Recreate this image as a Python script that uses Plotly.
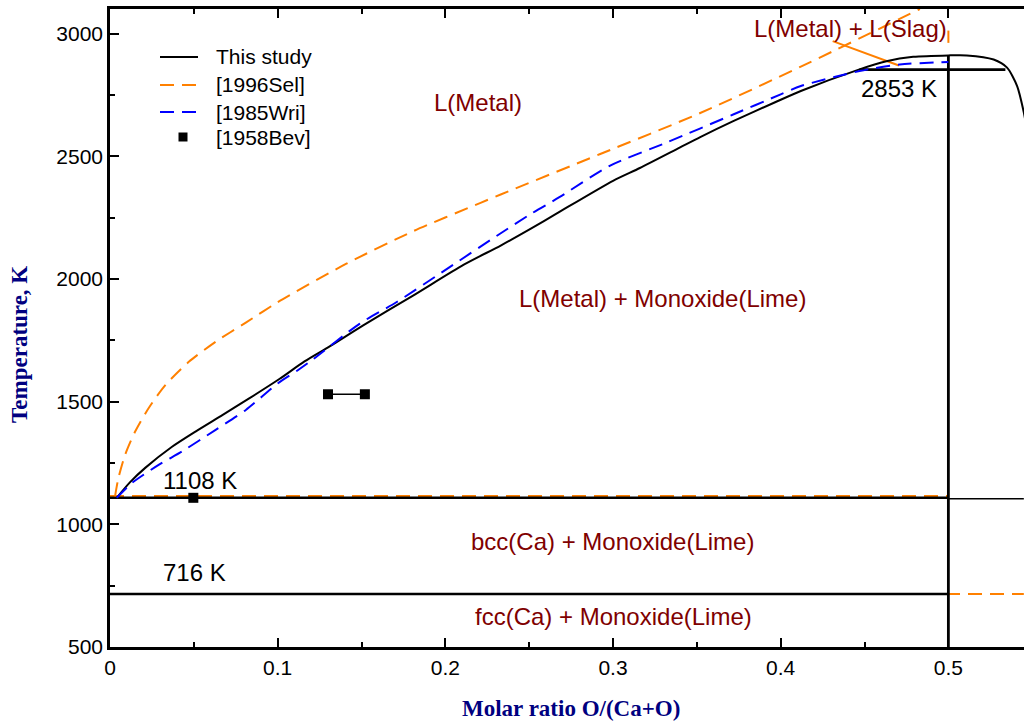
import plotly.graph_objects as go

# ---------------- data ----------------
# This study: liquidus of the Ca-O system
x_this = [0.004, 0.012, 0.021, 0.037, 0.051, 0.067, 0.083, 0.101, 0.116, 0.131,
          0.151, 0.181, 0.211, 0.233, 0.251, 0.266, 0.300, 0.316, 0.340, 0.352,
          0.372, 0.396, 0.412, 0.447, 0.463, 0.479, 0.500, 0.511, 0.527, 0.535,
          0.541, 0.545, 0.548]
t_this = [1108, 1172, 1230, 1316, 1378, 1445, 1513, 1592, 1664, 1725,
          1811, 1933, 2058, 2136, 2205, 2265, 2400, 2452, 2536, 2578,
          2644, 2718, 2766, 2854, 2887, 2905, 2911, 2911, 2894, 2861,
          2786, 2678, 2560]

# [1996Sel] liquidus
x_sel = [0.003, 0.005, 0.009, 0.015, 0.023, 0.033, 0.047, 0.063, 0.081, 0.100,
         0.141, 0.181, 0.221, 0.233, 0.292, 0.352, 0.412, 0.483]
t_sel = [1114, 1188, 1283, 1378, 1473, 1567, 1662, 1744, 1822, 1905,
         2062, 2195, 2310, 2344, 2508, 2676, 2865, 3100]
# [1996Sel] liquid miscibility boundary and other lines
x_sel_gap = [0.431, 0.4705]
t_sel_gap = [2969, 2870]
x_sel_vert = [0.5, 0.5]
t_sel_vert = [3012, 2962]
x_sel_eut = [0.0, 0.5]
t_sel_eut = [1115, 1115]
x_sel_716 = [0.0, 0.545]
t_sel_716 = [716, 716]

# [1985Wri] liquidus
x_wri = [0.004, 0.013, 0.029, 0.043, 0.063, 0.081, 0.100, 0.112, 0.121, 0.149,
         0.171, 0.201, 0.231, 0.251, 0.268, 0.298, 0.332, 0.372, 0.400, 0.412,
         0.447, 0.471, 0.500]
t_wri = [1108, 1168, 1242, 1297, 1385, 1466, 1574, 1628, 1672, 1818,
         1906, 2041, 2177, 2265, 2333, 2461, 2556, 2671, 2752, 2786,
         2847, 2874, 2884]

# [1958Bev] experimental points
x_bev = [0.0497, 0.130, 0.152]
t_bev = [1108, 1530, 1530]

# invariant lines of this study
x_eut = [0.0, 0.5]
t_eut = [1108, 1108]
x_eut_r = [0.5, 0.545]
t_eut_r = [1104, 1104]
x_716 = [0.0, 0.5]
t_716 = [716, 716]
x_mono = [0.447, 0.534]
t_mono = [2853, 2853]
x_cao = [0.5, 0.5]
t_cao = [500, 2911]

# region labels
lab_text = ["L(Metal)", "L(Metal) + L(Slag)", "L(Metal) + Monoxide(Lime)",
            "bcc(Ca) + Monoxide(Lime)", "fcc(Ca) + Monoxide(Lime)"]
lab_x = [0.2192, 0.4414, 0.3295, 0.2994, 0.300]
lab_t = [2719, 3020, 1920, 930, 624]
# temperature labels
tl_text = ["1108 K", "716 K", "2853 K"]
tl_x = [0.0534, 0.0501, 0.4706]
tl_t = [1178, 802, 2778]

# legend entries
leg_names = ["This study", "[1996Sel]", "[1985Wri]", "[1958Bev]"]

x_ticks = [0, 0.1, 0.2, 0.3, 0.4, 0.5]
x_ticklabels = ["0", "0.1", "0.2", "0.3", "0.4", "0.5"]
y_ticks = [500, 1000, 1500, 2000, 2500, 3000]

ORANGE = "#FF8000"
BLUE = "#0000FF"
DARKRED = "#800000"
SANS = "Liberation Sans, Arial, sans-serif"
SERIF = "Liberation Serif, Times New Roman, serif"
DASH = "14px,8px"

fig = go.Figure()

def line(x, y, color, width, dash="solid", name="", smooth=False):
    fig.add_trace(go.Scatter(x=x, y=y, mode="lines", name=name,
                             line=dict(color=color, width=width, dash=dash,
                                       shape="spline" if smooth else "linear",
                                       smoothing=0.7 if smooth else None),
                             showlegend=False, hoverinfo="skip"))

# orange (1996Sel) underlying lines
line(x_sel_716, t_sel_716, ORANGE, 2, DASH)
line(x_sel_eut, t_sel_eut, ORANGE, 2, DASH)
# black invariants
line(x_eut, t_eut, "black", 2.6)
line(x_eut_r, t_eut_r, "black", 1.5)
line(x_716, t_716, "black", 2.6)
line(x_mono, t_mono, "black", 2.6)
line(x_cao, t_cao, "black", 2.8)
# other 1996Sel lines
line(x_sel_gap, t_sel_gap, ORANGE, 2)
line(x_sel_vert, t_sel_vert, ORANGE, 2)
# liquidus curves
line(x_this, t_this, "black", 2, name=leg_names[0], smooth=True)
line(x_sel, t_sel, ORANGE, 2, DASH, name=leg_names[1], smooth=True)
line(x_wri, t_wri, BLUE, 2, DASH, name=leg_names[2], smooth=True)

# 1958Bev
fig.add_trace(go.Scatter(x=x_bev[1:], y=t_bev[1:], mode="lines",
                         line=dict(color="black", width=1.5),
                         showlegend=False, hoverinfo="skip"))
fig.add_trace(go.Scatter(x=x_bev, y=t_bev, mode="markers", name=leg_names[3],
                         marker=dict(symbol="square", size=10, color="black"),
                         showlegend=False, hoverinfo="skip"))

for t, x, y in zip(lab_text, lab_x, lab_t):
    fig.add_annotation(x=x, y=y, text=t, showarrow=False,
                       font=dict(family=SANS, size=24, color=DARKRED),
                       xanchor="center", yanchor="middle")
for t, x, y in zip(tl_text, tl_x, tl_t):
    fig.add_annotation(x=x, y=y, text=t, showarrow=False,
                       font=dict(family=SANS, size=24, color="black"),
                       xanchor="center", yanchor="middle")

# ---- legend (drawn in paper coordinates) ----
PW, PH, PL, PB = 914.0, 638.0, 110.0, 647.0
def px(xp):
    return (xp - PL) / PW
def py(yp):
    return (PB - yp) / PH
leg_rows = [57, 85, 112, 137]
leg_styles = [("black", "solid"), (ORANGE, DASH), (BLUE, DASH), None]
for name, row, style in zip(leg_names, leg_rows, leg_styles):
    if style is not None:
        fig.add_shape(type="line", xref="paper", yref="paper",
                      x0=px(160), x1=px(198), y0=py(row), y1=py(row),
                      line=dict(color=style[0], width=2, dash=style[1]))
    else:
        fig.add_shape(type="rect", xref="paper", yref="paper",
                      x0=px(178.5), x1=px(187.5), y0=py(row + 4.5), y1=py(row - 4.5),
                      line=dict(width=0), fillcolor="black")
    fig.add_annotation(xref="paper", yref="paper", x=px(214), y=py(row),
                       text=name, showarrow=False, xanchor="left", yanchor="middle",
                       font=dict(family=SANS, size=21, color="black"))

# axis titles
fig.add_annotation(xref="paper", yref="paper", x=0.504, y=-0.097,
                   text="<b>Molar ratio O/(Ca+O)</b>", showarrow=False,
                   font=dict(family=SERIF, size=23, color="#000080"),
                   xanchor="center", yanchor="middle")
fig.add_annotation(xref="paper", yref="paper", x=-0.0985, y=0.475,
                   text="<b>Temperature, K</b>", showarrow=False, textangle=-90,
                   font=dict(family=SERIF, size=23, color="#000080"),
                   xanchor="center", yanchor="middle")

fig.update_layout(
    width=1024, height=725,
    margin=dict(l=110, r=0, t=9, b=78),
    paper_bgcolor="white", plot_bgcolor="white",
    font=dict(family=SANS, size=21, color="black"),
    showlegend=False,
    xaxis=dict(range=[0, 0.5451], tickvals=x_ticks, ticktext=x_ticklabels,
               ticks="inside", ticklen=9, tickwidth=1.8, tickcolor="black",
               showline=True, linecolor="black", linewidth=2.5, mirror="ticks",
               showgrid=False, zeroline=False,
               tickfont=dict(family=SANS, size=21),
               minor=dict(dtick=0.05, ticks="inside", ticklen=5, tickwidth=1.8,
                          tickcolor="black", showgrid=False)),
    yaxis=dict(range=[500, 3100], tickvals=y_ticks,
               ticks="inside", ticklen=9, tickwidth=1.8, tickcolor="black",
               showline=True, linecolor="black", linewidth=2.5, mirror=False,
               showgrid=False, zeroline=False,
               tickfont=dict(family=SANS, size=21),
               minor=dict(dtick=250, ticks="inside", ticklen=5, tickwidth=1.8,
                          tickcolor="black", showgrid=False)),
)

fig.write_html("out.html")
